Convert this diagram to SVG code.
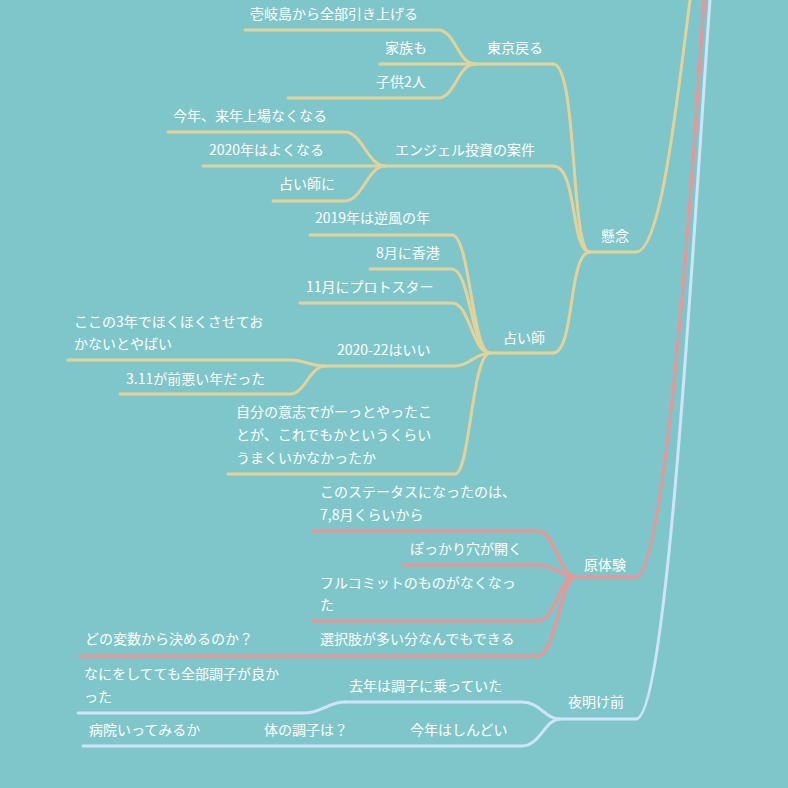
<svg xmlns="http://www.w3.org/2000/svg" width="788" height="788" viewBox="0 0 788 788">
<style>
text{font-family:"Noto Sans CJK JP","Noto Sans",sans-serif;font-size:14px;fill:#fff}
.y{fill:none;stroke:#e3d39b;stroke-width:3;stroke-linecap:round}
.r{fill:none;stroke:#ef9494;stroke-width:3;stroke-linecap:round}
.b{fill:none;stroke:#cfe4f6;stroke-width:3;stroke-linecap:round}
</style>
<rect width="788" height="788" fill="#7fc6ca"/>
<g id="connectors">
<path class="y" d="M636,252 C662,252 678,90 690,0"/>
<path class="r" d="M636,577 C664,577 690,220 704,0"/>
<path class="b" d="M636,719 C668,719 694,220 710,0"/>
<path class="y" d="M590,252 H636"/>
<path class="y" d="M553,64 C578,64 570,252 590,252"/>
<path class="y" d="M553,166 C578,166 570,252 590,252"/>
<path class="y" d="M553,353 C575,353 568,252 590,252"/>
<path class="y" d="M475,64 H553"/>
<path class="y" d="M245,30 H438 C455,30 458,64 475,64"/>
<path class="y" d="M380,64 H475"/>
<path class="y" d="M288,98 H438 C455,98 458,64 475,64"/>
<path class="y" d="M385,166 H553"/>
<path class="y" d="M168,132 H345 C362,132 368,166 385,166"/>
<path class="y" d="M203,166 H385"/>
<path class="y" d="M273,201 H345 C362,201 368,166 385,166"/>
<path class="y" d="M490,353 H553"/>
<path class="y" d="M310,235 H452 C470,235 472,353 490,353"/>
<path class="y" d="M370,269 H452 C470,269 472,353 490,353"/>
<path class="y" d="M300,303 H452 C470,303 472,353 490,353"/>
<path class="y" d="M325,366 H455 C470,366 475,353 490,353"/>
<path class="y" d="M228,474 H455 C470,474 472,353 490,353"/>
<path class="y" d="M68,360 H290 C305,360 310,366 325,366"/>
<path class="y" d="M120,394 H290 C305,394 310,366 325,366"/>
<path class="r" d="M575,577 H636"/>
<path class="r" d="M313,531 H538 C555,531 560,577 575,577"/>
<path class="r" d="M403,565 H538 C555,565 560,577 575,577"/>
<path class="r" d="M313,621 H538 C555,621 560,577 575,577"/>
<path class="r" d="M80,656 H538 C555,656 562,577 575,577"/>
<path class="b" d="M560,719 H636"/>
<path class="b" d="M345,702 H522 C540,702 545,719 560,719"/>
<path class="b" d="M78,713 H303 C322,713 328,702 345,702"/>
<path class="b" d="M83,746 H522 C540,746 545,719 560,719"/>
</g>
<g id="n-kenen"><text x="601" y="241">懸念</text></g>
<g id="n-tokyo"><text x="487" y="53">東京戻る</text></g>
<g id="n-iki"><text x="250" y="19">壱岐島から全部引き上げる</text></g>
<g id="n-kazoku"><text x="385" y="53">家族も</text></g>
<g id="n-kodomo"><text x="376" y="87">子供2人</text></g>
<g id="n-angel"><text x="395" y="155">エンジェル投資の案件</text></g>
<g id="n-kotoshi"><text x="173" y="121">今年、来年上場なくなる</text></g>
<g id="n-2020"><text x="209" y="155">2020年はよくなる</text></g>
<g id="n-uranaishini"><text x="279" y="189">占い師に</text></g>
<g id="n-uranaishi"><text x="503" y="343">占い師</text></g>
<g id="n-2019"><text x="315" y="223">2019年は逆風の年</text></g>
<g id="n-8gatsu"><text x="376" y="258">8月に香港</text></g>
<g id="n-11gatsu"><text x="306" y="292">11月にプロトスター</text></g>
<g id="n-2020-22"><text x="337" y="355">2020-22はいい</text></g>
<g id="n-kokono"><text x="74" y="327">ここの3年でほくほくさせてお</text><text x="74" y="349">かないとやばい</text></g>
<g id="n-311"><text x="126" y="384">3.11が前悪い年だった</text></g>
<g id="n-jibun"><text x="236" y="417">自分の意志でがーっとやったこ</text><text x="236" y="440">とが、これでもかというくらい</text><text x="236" y="463">うまくいかなかったか</text></g>
<g id="n-gentaiken"><text x="584" y="570">原体験</text></g>
<g id="n-status"><text x="320" y="497">このステータスになったのは、</text><text x="320" y="520">7,8月くらいから</text></g>
<g id="n-pokkari"><text x="410" y="554">ぽっかり穴が開く</text></g>
<g id="n-fullcommit"><text x="320" y="588">フルコミットのものがなくなっ</text><text x="320" y="610">た</text></g>
<g id="n-sentakushi"><text x="320" y="644">選択肢が多い分なんでもできる</text></g>
<g id="n-hensu"><text x="85" y="644">どの変数から決めるのか？</text></g>
<g id="n-yoake"><text x="568" y="707">夜明け前</text></g>
<g id="n-kyonen"><text x="349" y="691">去年は調子に乗っていた</text></g>
<g id="n-nani"><text x="84" y="679">なにをしてても全部調子が良か</text><text x="84" y="702">った</text></g>
<g id="n-shindoi"><text x="410" y="735">今年はしんどい</text></g>
<g id="n-karada"><text x="264" y="735">体の調子は？</text></g>
<g id="n-byoin"><text x="89" y="735">病院いってみるか</text></g>
</svg>
